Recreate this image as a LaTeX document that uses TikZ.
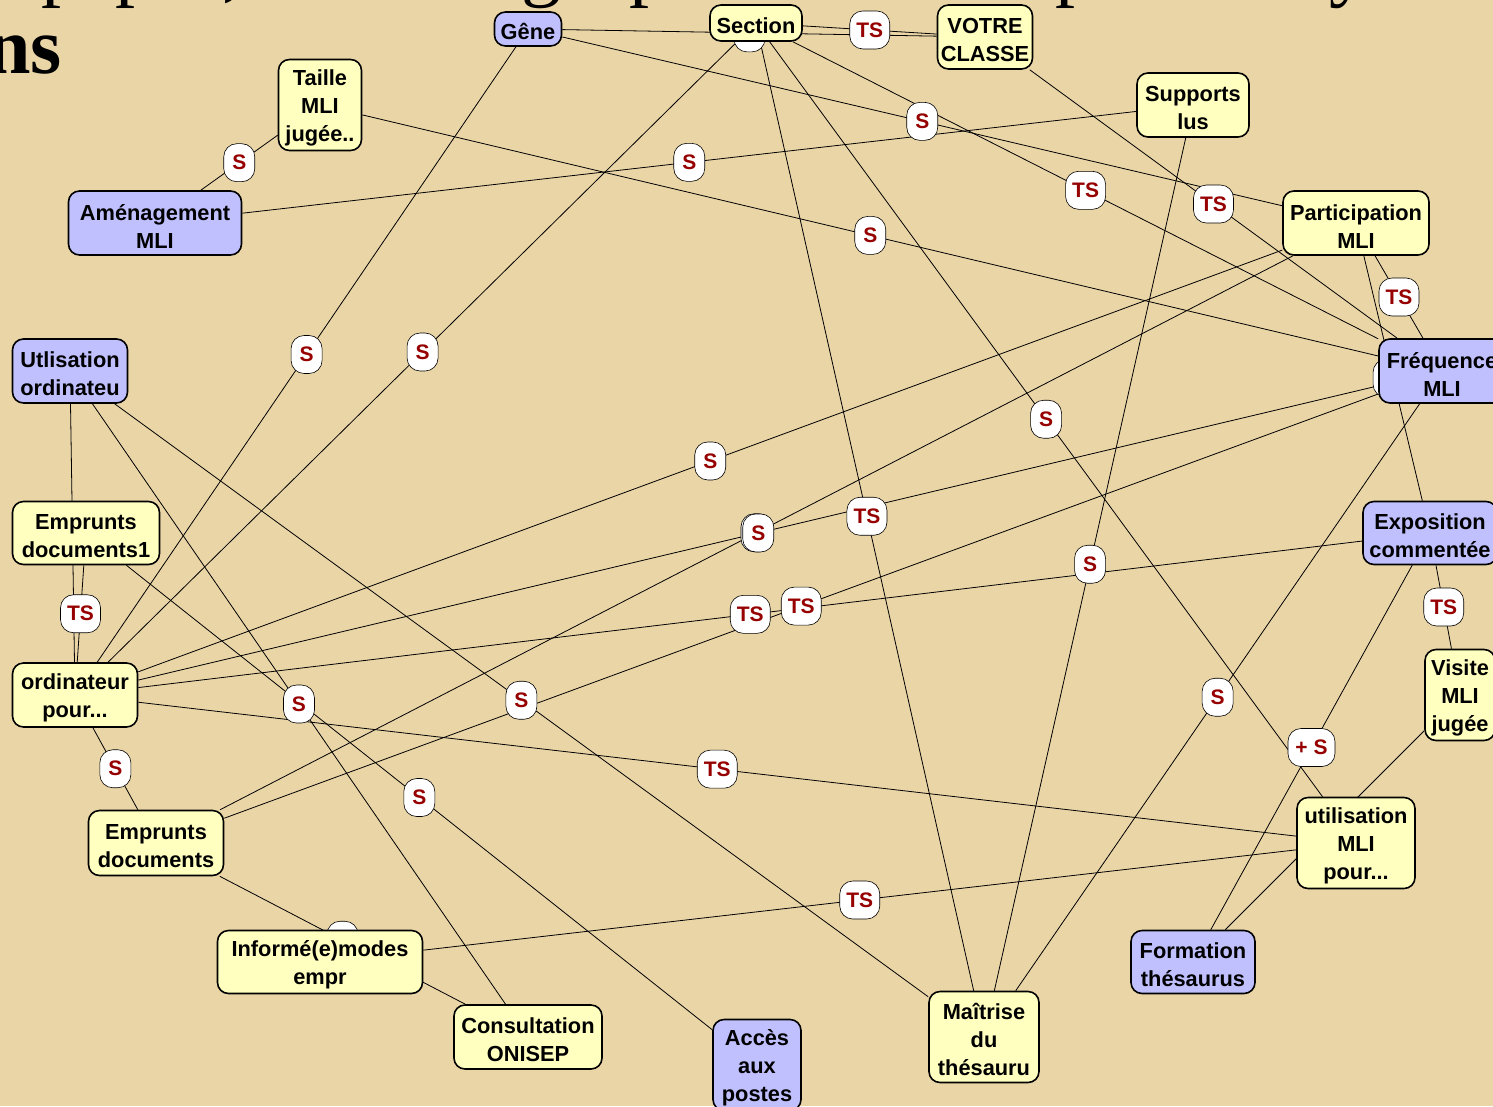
\documentclass[tikz,border=0pt]{standalone}
\usepackage{fontspec}
\setmainfont{Liberation Sans}
\newfontfamily\titlefont{Liberation Serif}
\pgfdeclarelayer{bg}
\pgfdeclarelayer{edges}
\pgfdeclarelayer{labels}
\pgfsetlayers{bg,edges,labels,main}
\definecolor{parch}{RGB}{234,213,167}
\definecolor{yelfill}{RGB}{255,255,192}
\definecolor{blufill}{RGB}{192,192,255}
\definecolor{lblred}{RGB}{150,0,0}
\newcommand\firstln{\rule{0pt}{22pt}}
\tikzset{
  box/.style={draw=black, line width=1.6pt, rounded corners=11pt, align=center,
    inner sep=2pt, font=\bfseries\fontsize{21.8}{28}\selectfont},
  ynode/.style={box, fill=yelfill},
  bnode/.style={box, fill=blufill},
  sz/.style 2 args={minimum width=#1pt, minimum height=#2pt},
  lbl/.style={draw=black, line width=0.6pt, fill=white, rounded corners=13pt,
    minimum height=38pt, inner sep=0pt, text=lblred,
    font=\bfseries\fontsize{21}{21}\selectfont},
  slbl/.style={lbl, minimum width=31pt},
  tslbl/.style={lbl, minimum width=40pt},
  pslbl/.style={lbl, minimum width=47pt},
  link/.style={draw=black, line width=0.8pt},
  ttl/.style={font=\titlefont\bfseries\fontsize{80}{80}\selectfont, inner sep=0pt},
  ttlr/.style={font=\titlefont\fontsize{80}{80}\selectfont, inner sep=0pt}
}
\begin{document}
\begin{tikzpicture}[x=1pt,y=-1pt]
\useasboundingbox (0,0) rectangle (1493,1106);
\begin{pgfonlayer}{bg}
\fill[parch] (0,0) rectangle (1493,1106);
\node[ttl, anchor=base east] (t0) at (62,73) {ons};
\node[ttlr, anchor=base west] (t1) at (41,-9) {p};
\node[ttlr, anchor=base west] (t2) at (115,-9) {p};
\node[ttlr, anchor=base] (t3) at (232,-9) {,};
\node[ttlr, anchor=base] (t4) at (541,-9) {g};
\node[ttlr, anchor=base west] (t5) at (629,-9) {p};
\node[ttlr, anchor=base west] (t6) at (1055,-9) {p};
\node[ttlr, anchor=base] (t7) at (1349,-9) {y};
\end{pgfonlayer}

% main nodes
\node[bnode, sz={67}{34}] (gene) at (528,29) {\firstln Gêne};
\node[ynode, sz={92}{36}] (section) at (756,23) {\firstln Section};
\node[ynode, sz={95}{64}] (votre) at (985,37) {\firstln VOTRE\\CLASSE};
\node[ynode, sz={83}{91}] (taille) at (320,105) {\firstln Taille\\MLI\\jugée..};
\node[ynode, sz={112}{64}] (supports) at (1193,105) {\firstln Supports\\lus};
\node[bnode, sz={173}{64}] (amenag) at (155,223) {\firstln Aménagement\\MLI};
\node[ynode, sz={146}{64}] (particip) at (1356,223) {\firstln Participation\\MLI};
\node[bnode, sz={115}{64}] (utilord) at (70,371) {\firstln Utlisation\\ordinateu};
\node[bnode, sz={126}{64}] (freq) at (1442,371) {\firstln Fréquence\\MLI};
\node[ynode, sz={147}{63}] (empdoc1) at (86,533) {\firstln Emprunts\\documents1};
\node[bnode, sz={134}{63}] (expo) at (1430,533) {\firstln Exposition\\commentée};
\node[ynode, sz={125}{64}] (ordpour) at (75,695) {\firstln ordinateur\\pour...};
\node[ynode, sz={70}{91}] (visite) at (1460,695) {\firstln Visite\\MLI\\jugée};
\node[ynode, sz={135}{65}] (empdoc) at (156,843) {\firstln Emprunts\\documents};
\node[ynode, sz={118}{91}] (utilmli) at (1356,843) {\firstln utilisation\\MLI\\pour...};
\node[ynode, sz={205}{63}] (informe) at (320,962) {\firstln Informé(e)modes\\empr};
\node[bnode, sz={124}{63}] (formation) at (1193,962) {\firstln Formation\\thésaurus};
\node[ynode, sz={148}{64}] (consult) at (528,1037) {\firstln Consultation\\ONISEP};
\node[bnode, sz={88}{91}] (acces) at (757,1065) {\firstln Accès\\aux\\postes};
\node[ynode, sz={110}{91}] (maitrise) at (984,1037) {\firstln Maîtrise\\du\\thésauru};

% connectors
\begin{pgfonlayer}{edges}
\draw[link] (taille) -- coordinate[midway] (m1) (amenag);
\draw[link] (amenag) -- coordinate[midway] (m2) (supports);
\draw[link] (gene) -- coordinate[midway] (m3) (particip);
\draw[link] (section) -- coordinate[midway] (m4) (votre);
\draw[link] (gene) -- coordinate[midway] (m5) (votre);
\draw[link] (section) -- coordinate[midway] (m6) (freq);
\draw[link] (votre) -- coordinate[midway] (m7) (freq);
\draw[link] (taille) -- coordinate[midway] (m8) (freq);
\draw[link] (particip) -- coordinate[midway] (m9) (freq);
\draw[link] (particip) -- coordinate[midway] (m10) (expo);
\draw[link] (gene) -- coordinate[midway] (m11) (ordpour);
\draw[link] (section) -- coordinate[midway] (m12) (ordpour);
\draw[link] (section) -- coordinate[midway] (m13) (utilmli);
\draw[link] (supports) -- coordinate[midway] (m14) (maitrise);
\draw[link] (ordpour) -- coordinate[midway] (m15) (particip);
\draw[link] (empdoc) -- coordinate[midway] (m16) (particip);
\draw[link] (ordpour) -- coordinate[midway] (m17) (freq);
\draw[link] (section) -- coordinate[midway] (m18) (maitrise);
\draw[link] (ordpour) -- coordinate[midway] (m19) (expo);
\draw[link] (empdoc) -- coordinate[midway] (m20) (freq);
\draw[link] (empdoc1) -- coordinate[midway] (m21) (acces);
\draw[link] (utilord) -- coordinate[midway] (m22) (consult);
\draw[link] (utilord) -- coordinate[midway] (m23) (ordpour);
\draw[link] (empdoc1) -- coordinate[midway] (m24) (ordpour);
\draw[link] (utilord) -- coordinate[midway] (m25) (maitrise);
\draw[link] (ordpour) -- coordinate[midway] (m26) (empdoc);
\draw[link] (empdoc) -- coordinate[midway] (m27) (consult);
\draw[link] (ordpour) -- coordinate[midway] (m28) (utilmli);
\draw[link] (freq) -- coordinate[midway] (m29) (maitrise);
\draw[link] (expo) -- coordinate[midway] (m30) (formation);
\draw[link] (expo) -- coordinate[midway] (m31) (visite);
\draw[link] (visite) -- coordinate[midway] (m32) (formation);
\draw[link] (informe) -- coordinate[midway] (m33) (utilmli);
\end{pgfonlayer}

% connector labels
\begin{pgfonlayer}{labels}
\node[slbl] (l1) at (m1) {S};
\node[slbl] (l2) at (m2) {S};
\node[slbl] (l3) at (m3) {S};
\node[tslbl] (l4) at (m4) {TS};
\node[slbl] (l5) at (m5) {S};
\node[tslbl] (l6) at (m6) {TS};
\node[tslbl] (l7) at (m7) {TS};
\node[slbl] (l8) at (m8) {S};
\node[tslbl] (l9) at (m9) {TS};
\node[tslbl] (l10) at (m10) {TS};
\node[slbl] (l11) at (m11) {S};
\node[slbl] (l12) at (m12) {S};
\node[slbl] (l13) at (m13) {S};
\node[slbl] (l14) at (m14) {S};
\node[slbl] (l15) at (m15) {S};
\node[slbl] (l16) at (m16) {S};
\node[slbl] (l17) at (m17) {S};
\node[tslbl] (l18) at (m18) {TS};
\node[tslbl] (l19) at (m19) {TS};
\node[tslbl] (l20) at (m20) {TS};
\node[slbl] (l21) at (m21) {S};
\node[slbl] (l22) at (m22) {S};
\node[slbl] (l23) at (m23) {S};
\node[tslbl] (l24) at (m24) {TS};
\node[slbl] (l25) at (m25) {S};
\node[slbl] (l26) at (m26) {S};
\node[slbl] (l27) at (m27) {S};
\node[tslbl] (l28) at (m28) {TS};
\node[slbl] (l29) at (m29) {S};
\node[pslbl] (l30) at (m30) {+ S};
\node[tslbl] (l31) at (m31) {TS};
\node[slbl] (l32) at (m32) {S};
\node[tslbl] (l33) at (m33) {TS};
\end{pgfonlayer}
\end{tikzpicture}
\end{document}
